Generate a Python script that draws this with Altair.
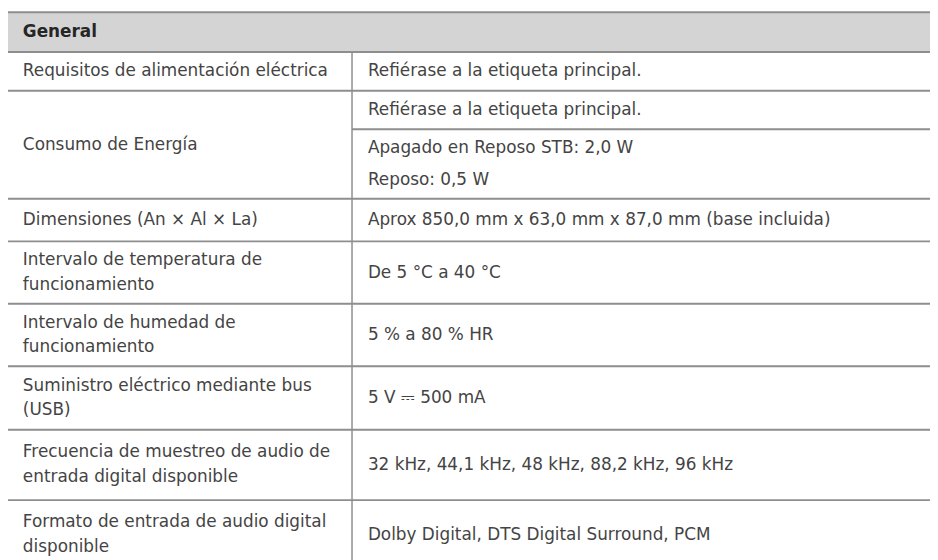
import altair as alt
import pandas as pd

# ---------------- data ----------------
section_title = "General"

spec_names = [
    ["Requisitos de alimentación eléctrica"],
    ["Consumo de Energía"],
    ["Dimensiones (An × Al × La)"],
    ["Intervalo de temperatura de", "funcionamiento"],
    ["Intervalo de humedad de", "funcionamiento"],
    ["Suministro eléctrico mediante bus", "(USB)"],
    ["Frecuencia de muestreo de audio de", "entrada digital disponible"],
    ["Formato de entrada de audio digital", "disponible"],
]

spec_values = [
    [["Refiérase a la etiqueta principal."]],
    [["Refiérase a la etiqueta principal."],
     ["Apagado en Reposo STB: 2,0 W", "Reposo: 0,5 W"]],
    [["Aprox 850,0 mm x 63,0 mm x 87,0 mm (base incluida)"]],
    [["De 5 °C a 40 °C"]],
    [["5 % a 80 % HR"]],
    [["5 V \u2393 500 mA"]],
    [["32 kHz, 44,1 kHz, 48 kHz, 88,2 kHz, 96 kHz"]],
    [["Dolby Digital, DTS Digital Surround, PCM"]],
]

# ---------------- layout (page pixels) ----------------
PAGE_W, PAGE_H = 938, 560
MARGIN = 8
TABLE_L, TABLE_R = 8, 940
HEADER_TOP, HEADER_H = 10, 40
ROW_H = [39, 109, 43, 63, 63, 64, 71, 70]
SUB_H = {1: [39, 70]}
COL_X = 355
LEFT_X, RIGHT_X = 23, 371
LEFT_GAP, RIGHT_GAP = 25, 32

FONT = "DejaVu Sans"
FONT_SIZE = 17
TEXT_COLOR = "#444444"
LINE_COLOR = "#8e8e8e"
HEADER_FILL = "#d4d4d4"

# build tables
texts, hlines, sublines = [], [], []
top = HEADER_TOP + HEADER_H
hlines.append({"x": TABLE_L, "x2": TABLE_R, "y": HEADER_TOP})
hlines.append({"x": TABLE_L, "x2": TABLE_R, "y": top})
for i, (name, vals) in enumerate(zip(spec_names, spec_values)):
    h = ROW_H[i]
    cy = top + h / 2
    n = len(name)
    for k, line in enumerate(name):
        texts.append({"x": LEFT_X, "y": cy + (k - (n - 1) / 2) * LEFT_GAP, "t": line})
    subs = SUB_H.get(i, [h])
    st = top
    for j, (para, sh) in enumerate(zip(vals, subs)):
        scy = st + sh / 2
        m = len(para)
        for k, line in enumerate(para):
            texts.append({"x": RIGHT_X, "y": scy + (k - (m - 1) / 2) * RIGHT_GAP, "t": line})
        st += sh
        if j < len(subs) - 1:
            sublines.append({"x": COL_X, "x2": TABLE_R, "y": st})
    top += h
    hlines.append({"x": TABLE_L, "x2": TABLE_R, "y": top})

hl = pd.DataFrame(hlines + sublines)
tx = pd.DataFrame(texts)
hdr = pd.DataFrame([{"x": TABLE_L, "x2": TABLE_R, "y": HEADER_TOP, "y2": HEADER_TOP + HEADER_H,
                     "tx": LEFT_X, "ty": HEADER_TOP + HEADER_H / 2, "t": section_title}])
vl = pd.DataFrame([{"x": COL_X, "y": HEADER_TOP + HEADER_H, "y2": top}])

xs = alt.Scale(domain=[MARGIN, PAGE_W], nice=False, zero=False)
ys = alt.Scale(domain=[MARGIN, PAGE_H], nice=False, zero=False, reverse=True)

header_rect = alt.Chart(hdr).mark_rect(color=HEADER_FILL).encode(
    x=alt.X("x:Q", scale=xs, axis=None), x2="x2:Q",
    y=alt.Y("y:Q", scale=ys, axis=None), y2="y2:Q")

header_text = alt.Chart(hdr).mark_text(
    align="left", baseline="middle", font=FONT, fontSize=FONT_SIZE, fontWeight="bold", color="#262626"
).encode(x=alt.X("tx:Q", scale=xs, axis=None), y=alt.Y("ty:Q", scale=ys, axis=None), text="t:N")

rules = alt.Chart(hl).mark_rule(color=LINE_COLOR, strokeWidth=2).encode(
    x=alt.X("x:Q", scale=xs, axis=None), x2="x2:Q", y=alt.Y("y:Q", scale=ys, axis=None))

vrule = alt.Chart(vl).mark_rule(color=LINE_COLOR, strokeWidth=1.5).encode(
    x=alt.X("x:Q", scale=xs, axis=None), y=alt.Y("y:Q", scale=ys, axis=None), y2="y2:Q")

body = alt.Chart(tx).mark_text(
    align="left", baseline="middle", font=FONT, fontSize=FONT_SIZE, color=TEXT_COLOR
).encode(x=alt.X("x:Q", scale=xs, axis=None), y=alt.Y("y:Q", scale=ys, axis=None), text="t:N")

chart = alt.layer(header_rect, rules, vrule, header_text, body).properties(
    width=PAGE_W - MARGIN, height=PAGE_H - MARGIN,
    autosize=alt.AutoSizeParams(type="none"), padding=0,
).configure_view(stroke=None)

chart.save("out.html", embed_options={"renderer": "svg", "actions": False})
